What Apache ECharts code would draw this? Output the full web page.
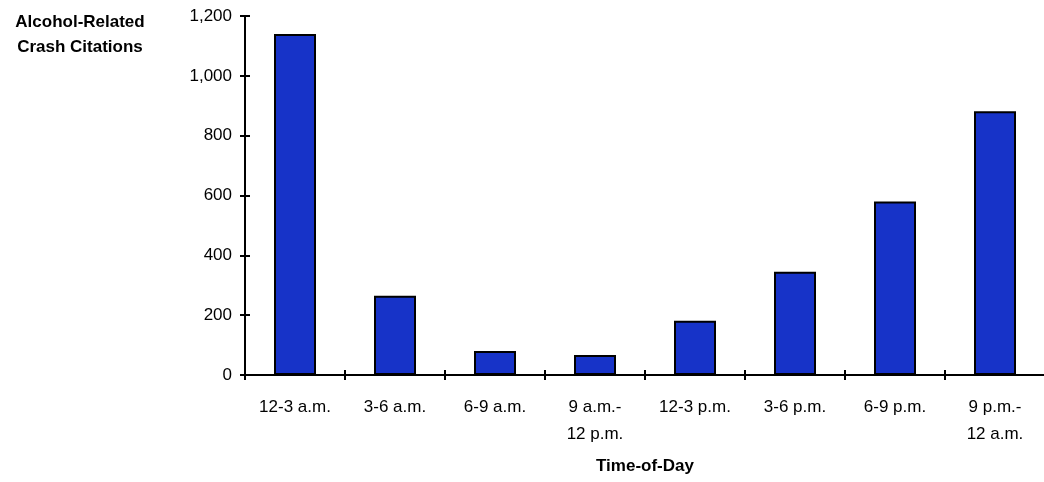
<!DOCTYPE html>
<html>
<head>
<meta charset="utf-8">
<script src="https://cdn.jsdelivr.net/npm/echarts@6/dist/echarts.min.js"></script>
<style>html,body{margin:0;padding:0;background:#fff;}#c{width:1044px;height:482px;}</style>
</head>
<body>
<div id="c"></div>
<script>
const categories = ["12-3 a.m.", "3-6 a.m.", "6-9 a.m.", "9 a.m.-\n12 p.m.", "12-3 p.m.", "3-6 p.m.", "6-9 p.m.", "9 p.m.-\n12 a.m."];
const citations = [1140, 265, 80, 67, 181, 345, 580, 882];
const yTicks = [0, 200, 400, 600, 800, 1000, 1200];
const yTitle = 'Alcohol-Related\nCrash Citations';
const xTitle = 'Time-of-Day';

const chart = echarts.init(document.getElementById('c'));
const font = '"Liberation Sans", Arial, sans-serif';
chart.setOption({
  animation: false,
  grid: { left: 245, right: -1, top: 16, bottom: 107, containLabel: false, outerBoundsMode: 'none' },
  graphic: [{
    type: 'text',
    x: 80,
    y: 10,
    style: { text: yTitle, align: 'center', verticalAlign: 'top', fontFamily: font, fontSize: 17, fontWeight: 'bold', fill: '#000', lineHeight: 25 }
  }],
  xAxis: [{
    type: 'category',
    data: categories,
    name: xTitle,
    nameLocation: 'middle',
    nameGap: 91,
    nameTextStyle: { fontFamily: font, fontSize: 17, fontWeight: 'bold', color: '#000', verticalAlign: 'middle' },
    axisLine: { lineStyle: { color: '#000', width: 2 } },
    axisTick: { show: true, length: 5, lineStyle: { color: '#000', width: 2 } },
    axisLabel: { fontFamily: font, fontSize: 17, color: '#000', margin: 19, lineHeight: 27, interval: 0 }
  }, {
    type: 'category',
    data: categories,
    position: 'bottom',
    axisLine: { show: false },
    axisTick: { show: true, inside: true, length: 5, lineStyle: { color: '#000', width: 2 } },
    axisLabel: { show: false }
  }],
  yAxis: [{
    type: 'value',
    min: yTicks[0],
    max: yTicks[yTicks.length - 1],
    interval: 200,
    splitLine: { show: false },
    axisLine: { show: true, lineStyle: { color: '#000', width: 2 } },
    axisTick: { show: true, length: 5, lineStyle: { color: '#000', width: 2 } },
    axisLabel: {
      fontFamily: font, fontSize: 17, color: '#000', margin: 13,
      formatter: v => v.toLocaleString('en-US')
    }
  }, {
    type: 'value',
    position: 'left',
    min: yTicks[0],
    max: yTicks[yTicks.length - 1],
    interval: 200,
    splitLine: { show: false },
    axisLine: { show: false },
    axisTick: { show: true, inside: true, length: 5, lineStyle: { color: '#000', width: 2 } },
    axisLabel: { show: false }
  }],
  series: [{
    type: 'bar',
    data: citations,
    barWidth: '42%',
    itemStyle: { color: '#1733C8', borderColor: '#000', borderWidth: 2 }
  }]
});
</script>
</body>
</html>
